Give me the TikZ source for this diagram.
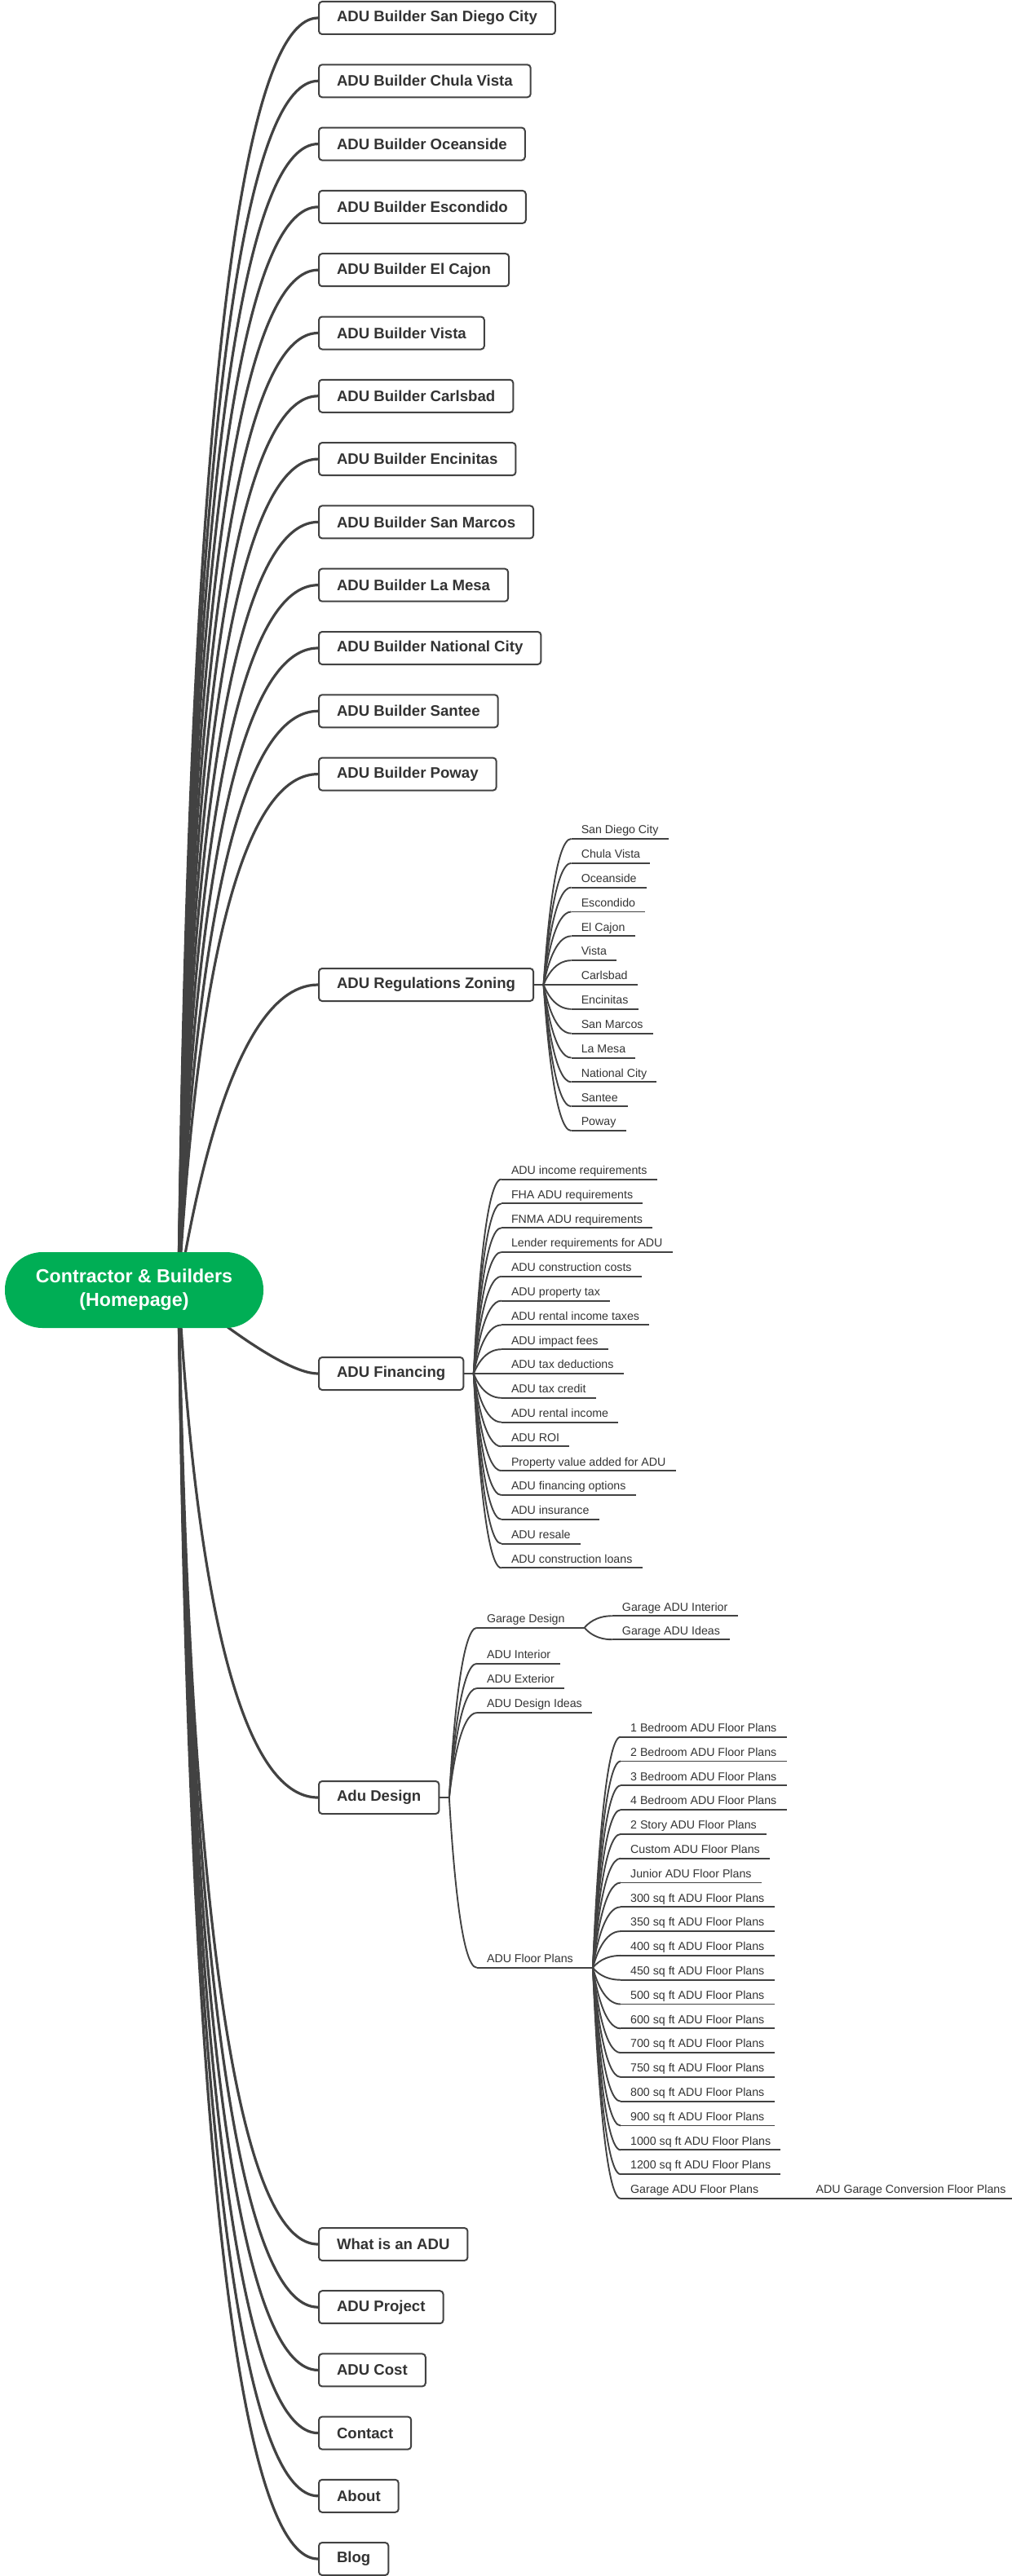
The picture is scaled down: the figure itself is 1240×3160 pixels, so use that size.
\documentclass[tikz,border=0pt]{standalone}
\usepackage{fontspec}
\setmainfont{Liberation Sans}
\usetikzlibrary{calc,backgrounds}
\definecolor{ln}{HTML}{424242}
\definecolor{txt}{HTML}{333333}
\definecolor{rootgreen}{HTML}{00AE55}
\begin{document}
\begin{tikzpicture}[x=1pt,y=-1pt,
  mainbox/.style={draw=ln, line width=2pt, rounded corners=4pt, fill=white, text=txt,
     font=\fontsize{18.6}{22}\selectfont\bfseries, inner xsep=22pt, inner ysep=0pt,
     minimum height=40pt, anchor=west},
  subline/.style={draw=ln, line width=1.9pt},
  leaf/.style={font=\fontsize{14.2}{17}\selectfont, text=txt, inner xsep=12pt, inner ysep=0pt,
     text depth=6pt, text height=11pt, anchor=south west,
     append after command={(\tikzlastnode.south west) edge[subline] (\tikzlastnode.south east)}},
  mainline/.style={draw=ln, line width=3.2pt},
  forkline/.style={draw=ln, line width=2pt},
  mainlink/.style={to path={.. controls ($(\tikztostart)+(5,0)$) and ($(\tikztotarget)+(-#1,0)$) .. (\tikztotarget)}},
  subcurve/.style={to path={.. controls ($(\tikztostart)!0.333!(\tikztostart |- \tikztotarget)+(4,0)$) and ($(\tikztotarget)+(-20,0)$) .. (\tikztotarget)}},
]
\useasboundingbox (0,0) rectangle (1240,3160);

% root
\node[fill=rootgreen, rounded corners=46pt, minimum width=317pt, minimum height=93pt,
  inner sep=0pt, text=white, font=\fontsize{23.2}{29}\selectfont\bfseries, align=center]
  (root) at (164.5,1582.5) {Contractor \& Builders\\(Homepage)};
\coordinate (hub) at ($(root.center)+(53.5,0)$);

% builder boxes
\foreach \t [count=\i] in {San Diego City,Chula Vista,Oceanside,Escondido,El Cajon,Vista,Carlsbad,Encinitas,San Marcos,La Mesa,National City,Santee,Poway}{
  \pgfmathsetmacro\yy{22+(\i-1)*77.3}
  \node[mainbox] (b\i) at (390,\yy) {ADU Builder \t};
}

% regulations
\node[mainbox] (reg) at (390,1208) {ADU Regulations Zoning};
\coordinate (freg) at ($(reg.east)+(11.5,0)$);
\draw[forkline] (reg.east) -- (freg);
\foreach \t [count=\i] in {San Diego City,Chula Vista,Oceanside,Escondido,El Cajon,Vista,Carlsbad,Encinitas,San Marcos,La Mesa,National City,Santee,Poway}{
  \pgfmathsetmacro\yy{1208+(\i-7)*29.85}
  \node[leaf] (reg\i) at ($(freg |- 0,\yy)+(34,0)$) {\t};
  \draw[subline] (freg) to[subcurve] (reg\i.south west);
}

% financing
\node[mainbox] (fin) at (390,1685) {ADU Financing};
\coordinate (ffin) at ($(fin.east)+(11.5,0)$);
\draw[forkline] (fin.east) -- (ffin);
\foreach \t [count=\i] in {ADU income requirements,FHA ADU requirements,FNMA ADU requirements,Lender requirements for ADU,ADU construction costs,ADU property tax,ADU rental income taxes,ADU impact fees,ADU tax deductions,ADU tax credit,ADU rental income,ADU ROI,Property value added for ADU,ADU financing options,ADU insurance,ADU resale,ADU construction loans}{
  \pgfmathsetmacro\yy{1685+(\i-9)*29.8}
  \node[leaf] (fin\i) at ($(ffin |- 0,\yy)+(34,0)$) {\t};
  \draw[subline] (ffin) to[subcurve] (fin\i.south west);
}

% design
\node[mainbox] (des) at (390,2205) {Adu Design};
\coordinate (fdes) at ($(des.east)+(11.5,0)$);
\draw[forkline] (des.east) -- (fdes);
\node[leaf] (gd) at ($(fdes |- 0,1996.7)+(34,0)$) {Garage Design};
\node[leaf] (ai) at ($(fdes |- 0,2040.7)+(34,0)$) {ADU Interior};
\node[leaf] (ae) at ($(fdes |- 0,2071)+(34,0)$) {ADU Exterior};
\node[leaf] (adi) at ($(fdes |- 0,2101)+(34,0)$) {ADU Design Ideas};
\node[leaf] (afp) at ($(fdes |- 0,2413.8)+(34,0)$) {ADU Floor Plans};
\foreach \n in {gd,ai,ae,adi,afp}{
  \draw[subline] (fdes) to[subcurve] (\n.south west);
}
% garage design children
\coordinate (fgd) at ($(gd.south east)+(12,0)$);
\draw[subline] (gd.south east) -- (fgd);
\node[leaf] (gai) at ($(fgd |- 0,1982.2)+(34,0)$) {Garage ADU Interior};
\node[leaf] (gid) at ($(fgd |- 0,2011.2)+(34,0)$) {Garage ADU Ideas};
\draw[subline] (fgd) to[subcurve] (gai.south west);
\draw[subline] (fgd) to[subcurve] (gid.south west);
% floor plans children
\coordinate (ffp) at ($(afp.south east)+(12,0)$);
\draw[subline] (afp.south east) -- (ffp);
\foreach \t [count=\i] in {1 Bedroom ADU Floor Plans,2 Bedroom ADU Floor Plans,3 Bedroom ADU Floor Plans,4 Bedroom ADU Floor Plans,2 Story ADU Floor Plans,Custom ADU Floor Plans,Junior ADU Floor Plans,300 sq ft ADU Floor Plans,350 sq ft ADU Floor Plans,400 sq ft ADU Floor Plans,450 sq ft ADU Floor Plans,500 sq ft ADU Floor Plans,600 sq ft ADU Floor Plans,700 sq ft ADU Floor Plans,750 sq ft ADU Floor Plans,800 sq ft ADU Floor Plans,900 sq ft ADU Floor Plans,1000 sq ft ADU Floor Plans,1200 sq ft ADU Floor Plans,Garage ADU Floor Plans}{
  \pgfmathsetmacro\yy{2130.7+(\i-1)*29.8}
  \node[leaf] (fp\i) at ($(ffp |- 0,\yy)+(34,0)$) {\t};
  \draw[subline] (ffp) to[subcurve] (fp\i.south west);
}
\coordinate (fgfp) at ($(fp20.south east)+(12,0)$);
\draw[subline] (fp20.south east) -- (fgfp);
\node[leaf] (gconv) at ($(fgfp)+(34,0)$) {ADU Garage Conversion Floor Plans};
\draw[subline] (fgfp) -- (gconv.south west);

% bottom boxes
\node[mainbox] (what) at (390,2753) {What is an ADU};
\node[mainbox] (proj) at (390,2830.2) {ADU Project};
\node[mainbox] (cost) at (390,2907.4) {ADU Cost};
\node[mainbox] (cont) at (390,2984.6) {Contact};
\node[mainbox] (about) at (390,3061.8) {About};
\node[mainbox] (blog) at (390,3139) {Blog};

% main connectors
\begin{scope}[on background layer]
\foreach \i in {1,...,13}{
  \pgfmathsetmacro\yy{22+(\i-1)*77.3}
  \pgfmathsetmacro\bb{172*(1-exp(-abs(\yy-1582.5)/300))}
  \draw[mainline] (root.center) -- (hub) to[mainlink=\bb] (b\i.west);
}
\foreach \n/\yy in {reg/1208,fin/1685,des/2205,what/2753,proj/2830.2,cost/2907.4,cont/2984.6,about/3061.8,blog/3139}{
  \pgfmathsetmacro\bb{172*(1-exp(-abs(\yy-1582.5)/300))}
  \draw[mainline] (root.center) -- (hub) to[mainlink=\bb] (\n.west);
}
\end{scope}
\end{tikzpicture}
\end{document}
